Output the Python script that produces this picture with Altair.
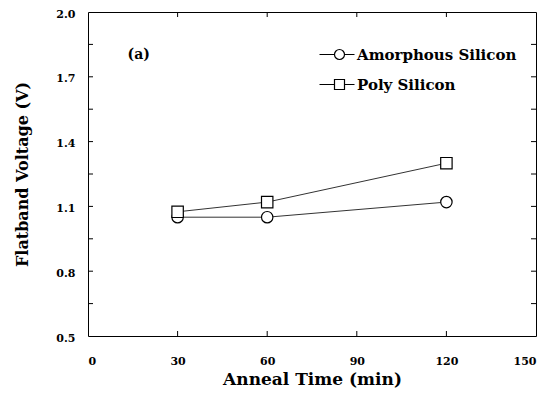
import altair as alt
import pandas as pd

# ---- data ----
times = [30, 60, 120]
amorphous = [1.05, 1.05, 1.12]
poly = [1.075, 1.12, 1.30]
series_names = ["Amorphous Silicon", "Poly Silicon"]
x_ticks = [0, 30, 60, 90, 120, 150]
y_ticks = [0.5, 0.65, 0.8, 0.95, 1.1, 1.25, 1.4, 1.55, 1.7, 1.85, 2.0]
panel_label = ["(a)"]
panel_pos_x = [17.0]
panel_pos_y = [1.80]

rows = []
for t, a, p in zip(times, amorphous, poly):
    rows.append({"time": t, "vfb": a, "series": series_names[0]})
    rows.append({"time": t, "vfb": p, "series": series_names[1]})
df = pd.DataFrame(rows)
ann = pd.DataFrame({"label": panel_label, "x": panel_pos_x, "y": panel_pos_y})
xt = pd.DataFrame({"v": x_ticks[1:-1]})
yt = pd.DataFrame({"v": y_ticks[1:-1]})

W, H = 448, 324
TL = 5  # inward tick length
FONT = "DejaVu Serif"
xscale = alt.Scale(domain=[0, 150], nice=False, zero=False)
yscale = alt.Scale(domain=[0.5, 2.0], nice=False, zero=False)

label_expr = "(round(datum.value*100) % 30) == 20 ? format(datum.value, '.1f') : ''"

bottom_axis = alt.Axis(orient="bottom", values=x_ticks, ticks=False, domain=False,
                       grid=False, labelPadding=19, title="Anneal Time (min)", titlePadding=5,
                       titleFontSize=17, format="d")
left_axis = alt.Axis(orient="left", values=y_ticks, ticks=False, domain=False,
                     grid=False, labelPadding=13, labelExpr=label_expr, labelOffset=2,
                     title="Flatband Voltage (V)", titleFontSize=16, titlePadding=25)

base = alt.Chart(df)

lines = base.mark_line(color="#333", strokeWidth=1).encode(
    x=alt.X("time:Q", scale=xscale, axis=bottom_axis),
    y=alt.Y("vfb:Q", scale=yscale, axis=left_axis),
    detail="series:N",
)

points = base.mark_point(filled=True, fill="white", stroke="black", strokeWidth=1.2,
                         size=130, opacity=1).encode(
    x=alt.X("time:Q", scale=xscale, axis=None),
    y=alt.Y("vfb:Q", scale=yscale, axis=None),
    shape=alt.Shape("series:N", scale=alt.Scale(domain=series_names, range=["circle", "square"]),
                    legend=None),
)

circ_path = "M-4,0H-1M1,0H3M-1,0A1,1 0 1,0 1,0A1,1 0 1,0 -1,0"
sq_path = "M-4,0H-1M1,0H3M-1,-1H1V1H-1Z"

legend_layer = base.transform_filter(alt.datum.time < 0).mark_point(
    filled=False, color="black", strokeWidth=1.2, size=100).encode(
    x=alt.X("time:Q", scale=xscale, axis=None),
    y=alt.Y("vfb:Q", scale=yscale, axis=None),
    shape=alt.Shape("series:N", scale=alt.Scale(domain=series_names, range=[circ_path, sq_path]),
                    legend=alt.Legend(orient="none", legendX=244, legendY=35, title=None,
                                      labelFont=FONT, labelFontSize=15, labelFontWeight="bold",
                                      labelColor="black", labelLimit=400, symbolSize=100,
                                      symbolOpacity=1, symbolStrokeColor="black",
                                      symbolStrokeWidth=1.2, labelOffset=10, rowPadding=14)),
)

text = alt.Chart(ann).mark_text(font=FONT, fontSize=14, fontWeight="bold", color="black",
                                align="center", baseline="middle").encode(
    x=alt.X("x:Q", scale=xscale, axis=None),
    y=alt.Y("y:Q", scale=yscale, axis=None),
    text="label:N",
)

tick_style = dict(color="black", strokeWidth=1)
xb = alt.Chart(xt).mark_rule(**tick_style).encode(
    x=alt.X("v:Q", scale=xscale, axis=None), y=alt.value(H), y2=alt.value(H - TL))
xtop = alt.Chart(xt).mark_rule(**tick_style).encode(
    x=alt.X("v:Q", scale=xscale, axis=None), y=alt.value(0), y2=alt.value(TL))
yl = alt.Chart(yt).mark_rule(**tick_style).encode(
    y=alt.Y("v:Q", scale=yscale, axis=None), x=alt.value(0), x2=alt.value(TL))
yr = alt.Chart(yt).mark_rule(**tick_style).encode(
    y=alt.Y("v:Q", scale=yscale, axis=None), x=alt.value(W), x2=alt.value(W - TL))

chart = alt.layer(xb, xtop, yl, yr, lines, points, legend_layer, text).resolve_scale(
    shape="independent"
).resolve_axis(x="independent", y="independent").properties(
    width=W, height=H,
    autosize=alt.AutoSizeParams(type="none"),
    padding={"left": 80, "top": 4, "right": 8, "bottom": 54},
    background="white",
).configure_view(stroke="black", strokeWidth=1).configure_axis(
    labelFont=FONT, labelFontSize=11, labelFontWeight="bold", labelColor="black",
    titleFont=FONT, titleFontWeight="bold", titleColor="black",
)

chart.save("out.html", embed_options={"renderer": "svg", "actions": False})
